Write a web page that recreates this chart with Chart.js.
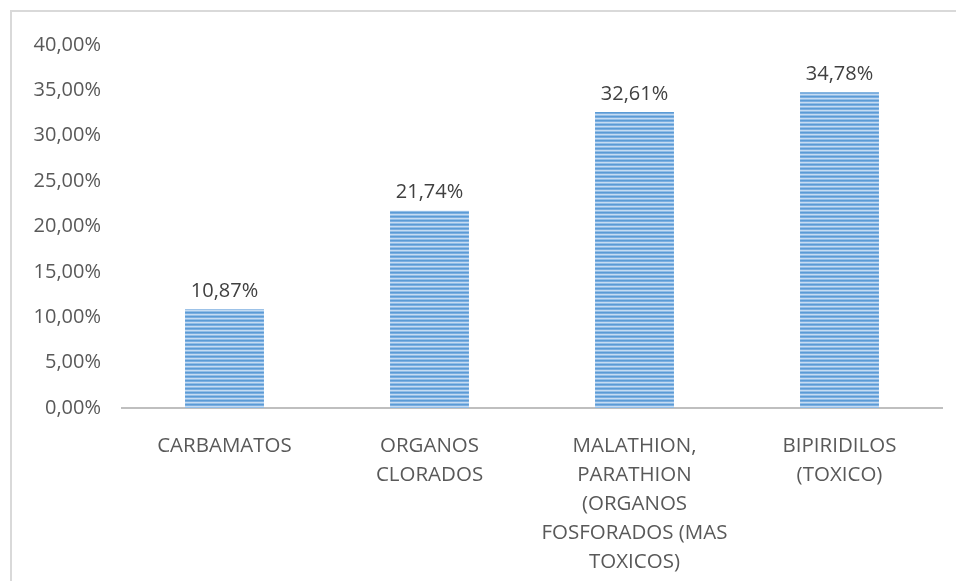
<!DOCTYPE html>
<html>
<head>
<meta charset="utf-8">
<script src="https://cdn.jsdelivr.net/npm/chart.js@4"></script>
<style>
html,body{margin:0;padding:0;background:#fff;}
#wrap{position:absolute;left:0;top:0;width:956px;height:581px;}
</style>
</head>
<body>
<div id="wrap"><canvas id="c" width="956" height="581"></canvas></div>
<script>
const categories = [
  'CARBAMATOS',
  ['ORGANOS', 'CLORADOS'],
  ['MALATHION,', 'PARATHION', '(ORGANOS', 'FOSFORADOS (MAS', 'TOXICOS)'],
  ['BIPIRIDILOS', '(TOXICO)']
];
const values = [0.1087, 0.2174, 0.3261, 0.3478];
const valueLabels = ['10,87%', '21,74%', '32,61%', '34,78%'];
const yTickStep = 0.05;
const yMax = 0.40;

function makePattern() {
  const p = document.createElement('canvas');
  p.width = 4; p.height = 4;
  const g = p.getContext('2d');
  const rows = ['#5B9BD5', '#7BAEE0', '#C6DCF2', '#92BDE7'];
  rows.forEach((c, i) => { g.fillStyle = c; g.fillRect(0, i, 4, 1); });
  return document.getElementById('c').getContext('2d').createPattern(p, 'repeat');
}

const FONT = "'Open Sans', 'DejaVu Sans', sans-serif";

const frame = {
  id: 'frame',
  beforeDraw(chart) {
    const ctx = chart.ctx;
    ctx.save();
    ctx.fillStyle = '#d9d9d9';
    ctx.fillRect(10, 10, 946, 2);
    ctx.fillRect(10, 10, 2, 571);
    ctx.restore();
  }
};

const valueLabelPlugin = {
  id: 'valueLabels',
  afterDatasetsDraw(chart) {
    const ctx = chart.ctx;
    const meta = chart.getDatasetMeta(0);
    ctx.save();
    ctx.font = '20px ' + FONT;
    ctx.fillStyle = '#404040';
    ctx.textAlign = 'center';
    ctx.textBaseline = 'middle';
    meta.data.forEach((bar, i) => {
      ctx.fillText(valueLabels[i], bar.x, bar.y - 18);
    });
    ctx.restore();
  }
};

new Chart(document.getElementById('c'), {
  type: 'bar',
  data: {
    labels: categories,
    datasets: [{
      data: values,
      backgroundColor: makePattern(),
      borderWidth: 0,
      barPercentage: 0.385,
      categoryPercentage: 1.0
    }]
  },
  options: {
    responsive: false,
    animation: false,
    layout: { padding: { left: 0, right: 14, top: 45, bottom: 0 } },
    plugins: { legend: { display: false }, tooltip: { enabled: false } },
    scales: {
      x: {
        grid: { display: false, drawTicks: false },
        border: { display: true, color: '#bfbfbf', width: 2 },
        ticks: {
          color: '#595959',
          font: { family: FONT, size: 20.5, lineHeight: 1.415 },
          padding: 24,
          maxRotation: 0,
          autoSkip: false
        },
        afterFit(s) { s.height = 173; }
      },
      y: {
        min: 0,
        max: yMax,
        grid: { display: false, drawTicks: false },
        border: { display: false },
        ticks: {
          stepSize: yTickStep,
          color: '#595959',
          font: { family: FONT, size: 20 },
          padding: 21,
          callback: v => (v * 100).toFixed(2).replace('.', ',') + '%'
        },
        afterFit(s) { s.width = 122; }
      }
    }
  },
  plugins: [frame, valueLabelPlugin]
});
</script>
</body>
</html>
